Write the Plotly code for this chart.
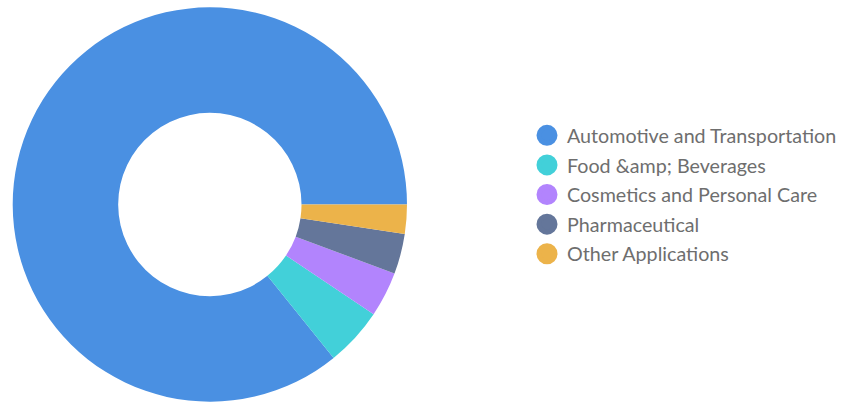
import plotly.graph_objects as go

labels = ["Automotive and Transportation", "Food &amp; Beverages",
          "Cosmetics and Personal Care", "Pharmaceutical", "Other Applications"]
values = [85.8, 4.8, 3.7, 3.3, 2.4]
colors = ["#4a90e2", "#42d0d9", "#b284fd", "#64769a", "#ecb34a"]

W, H = 854, 403
mt, mb = 7, 1
ph = H - mt - mb

# rotation so the last slice ends at 3 o'clock (counterclockwise order)
rot = 90 + sum(values[1:]) / sum(values) * 360

def shown(s):
    # the source shows the entity literally
    return s.replace("&", "&amp;")

fig = go.Figure()
fig.add_trace(go.Pie(
    labels=[shown(l) for l in labels], values=values, hole=0.465, sort=False,
    direction="counterclockwise", rotation=rot,
    marker=dict(colors=colors, line=dict(width=0)),
    textinfo="none", hoverinfo="label+percent", showlegend=False,
    domain=dict(x=[12.7 / W, 407 / W], y=[0, 1]),
))

for lab, col in zip(labels, colors):
    fig.add_trace(go.Scatter(
        x=[None], y=[None], mode="markers", name=shown(lab), legendgroup=lab,
        marker=dict(symbol="circle", size=16, color=col,
                    line=dict(width=5, color=col)),
        showlegend=True,
    ))

fig.update_layout(
    width=W, height=H,
    margin=dict(l=0, r=0, t=mt, b=mb),
    paper_bgcolor="white", plot_bgcolor="white",
    xaxis=dict(visible=False), yaxis=dict(visible=False),
    legend=dict(
        x=527 / W, xanchor="left",
        y=1 - (195 - mt) / ph, yanchor="middle",
        font=dict(family="Lato", size=19.7, color="#6e6e6e"),
        tracegroupgap=1, itemsizing="trace",
        bgcolor="rgba(0,0,0,0)",
    ),
)

fig.write_html("out.html")
